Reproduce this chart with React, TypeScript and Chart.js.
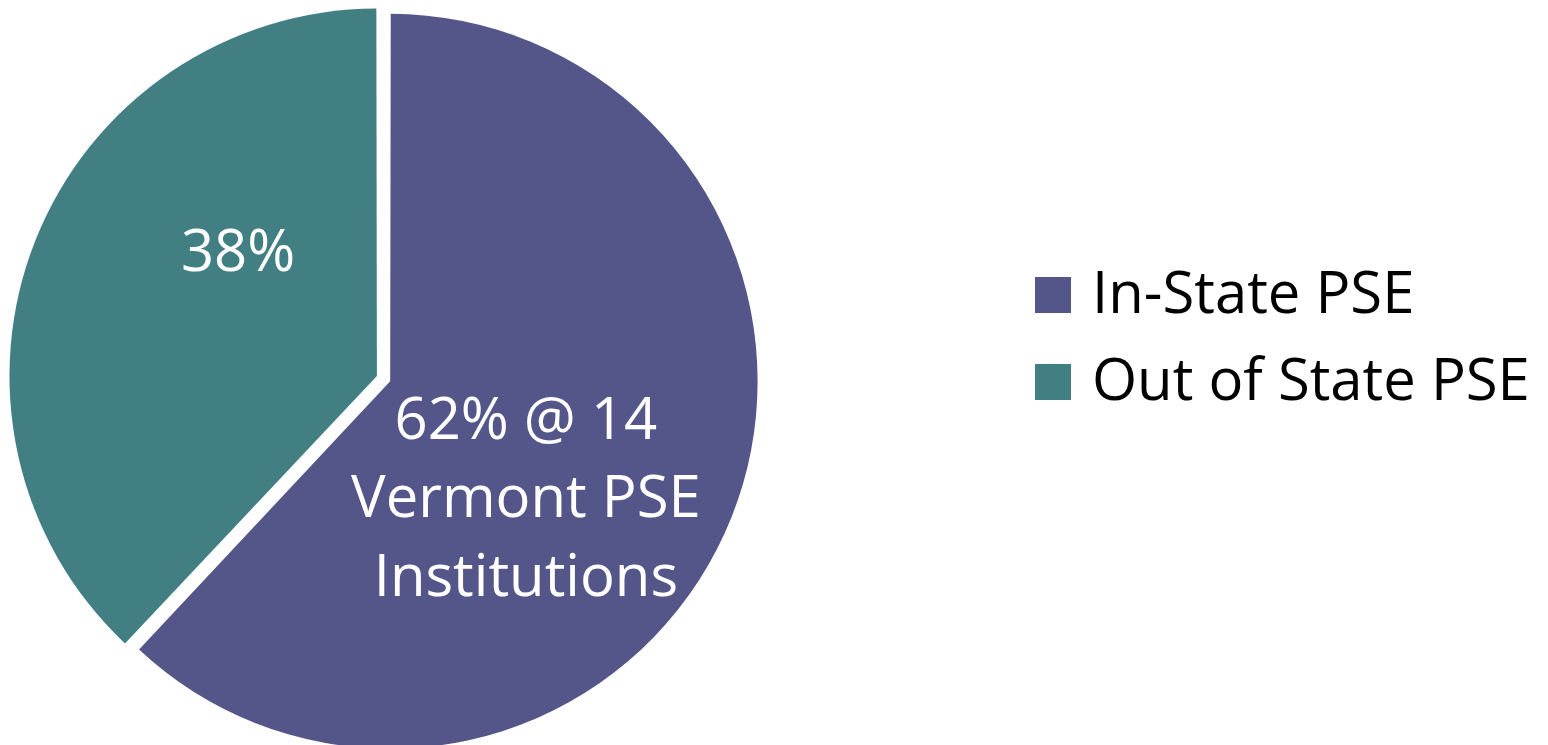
import React, { useEffect, useRef } from 'react';
import { Chart, registerables } from 'chart.js';

Chart.register(...registerables);

// ---- data ----
const categories: string[] = ['In-State PSE', 'Out of State PSE'];
const shares: number[] = [62, 38];
const vermontInstitutions = 14;
const sliceColors: string[] = ['#54568A', '#427F83'];
const sliceLabelLines: string[][] = [
  [`${shares[0]}% @ ${vermontInstitutions}`, 'Vermont PSE', 'Institutions'],
  [`${shares[1]}%`],
];

// ---- styling ----
const FONT_FAMILY = '"Open Sans", "Noto Sans", sans-serif';
const FONT_SIZE = 58;
const CAP_RATIO = 0.714;
const explodeOffsets = [13.7, 43.5];
const labelAngleShiftDeg = [18.8, 20.6];
const labelRadialFraction = [0.485, 0.51];
const LABEL_LINE_HEIGHT = 78.3;

const LEGEND_LEFT = 1035;
const LEGEND_TOP = 277;
const LEGEND_ROW = 87;
const LEGEND_BOX = 36;
const LEGEND_GAP = 21;

const sliceLabelPlugin = {
  id: 'sliceLabels',
  afterDatasetsDraw(chart: any) {
    const ctx = chart.ctx as CanvasRenderingContext2D;
    const meta = chart.getDatasetMeta(0);
    ctx.save();
    ctx.fillStyle = '#FFFFFF';
    ctx.font = `${FONT_SIZE}px ${FONT_FAMILY}`;
    ctx.textAlign = 'center';
    ctx.textBaseline = 'alphabetic';
    const capH = FONT_SIZE * CAP_RATIO;
    meta.data.forEach((arc: any, i: number) => {
      const p = arc.getProps(['x', 'y', 'startAngle', 'endAngle', 'outerRadius', 'circumference'], true);
      const off = (arc.options.offset || 0) / 4;
      const half = (p.startAngle + p.endAngle) / 2;
      const fix = 1 - Math.sin(Math.min(Math.PI, p.circumference || 0));
      const r = p.outerRadius + off * fix;
      const cx = p.x + Math.cos(half) * off;
      const cy = p.y + Math.sin(half) * off;
      const ang = half + (labelAngleShiftDeg[i] * Math.PI) / 180;
      const ax = cx + Math.cos(ang) * labelRadialFraction[i] * r;
      const ay = cy + Math.sin(ang) * labelRadialFraction[i] * r;
      const lines = sliceLabelLines[i];
      lines.forEach((t, j) => {
        ctx.fillText(t, ax, ay + capH / 2 + (j - (lines.length - 1) / 2) * LABEL_LINE_HEIGHT);
      });
    });
    ctx.restore();
  },
};

const sideLegendPlugin = {
  id: 'sideLegend',
  afterDraw(chart: any) {
    const ctx = chart.ctx as CanvasRenderingContext2D;
    const ds = chart.data.datasets[0];
    ctx.save();
    ctx.font = `${FONT_SIZE}px ${FONT_FAMILY}`;
    ctx.textAlign = 'left';
    ctx.textBaseline = 'alphabetic';
    (chart.data.labels as string[]).forEach((label, i) => {
      const top = LEGEND_TOP + i * LEGEND_ROW;
      ctx.fillStyle = ds.backgroundColor[i];
      ctx.fillRect(LEGEND_LEFT, top, LEGEND_BOX, LEGEND_BOX);
      ctx.fillStyle = '#000000';
      ctx.fillText(label, LEGEND_LEFT + LEGEND_BOX + LEGEND_GAP, top + LEGEND_BOX);
    });
    ctx.restore();
  },
};

export default function App() {
  const canvasRef = useRef<HTMLCanvasElement | null>(null);

  useEffect(() => {
    if (!canvasRef.current) return;
    const chart = new Chart(canvasRef.current, {
      type: 'pie',
      data: {
        labels: categories,
        datasets: [
          {
            data: shares,
            backgroundColor: sliceColors,
            borderWidth: 0,
            offset: explodeOffsets,
            hoverOffset: 0,
            clip: false,
          } as any,
        ],
      },
      options: {
        responsive: false,
        animation: false,
        radius: 364,
        layout: { padding: { top: 15, right: 774, bottom: 0, left: 0 } },
        plugins: {
          legend: { display: false },
          tooltip: { enabled: false },
        },
      } as any,
      plugins: [sliceLabelPlugin, sideLegendPlugin],
    });
    return () => chart.destroy();
  }, []);

  return (
    <div style={{ position: 'fixed', left: 0, top: 0, width: 1548, height: 745, background: '#FFFFFF' }}>
      <canvas ref={canvasRef} width={1548} height={745} style={{ display: 'block' }} />
    </div>
  );
}
